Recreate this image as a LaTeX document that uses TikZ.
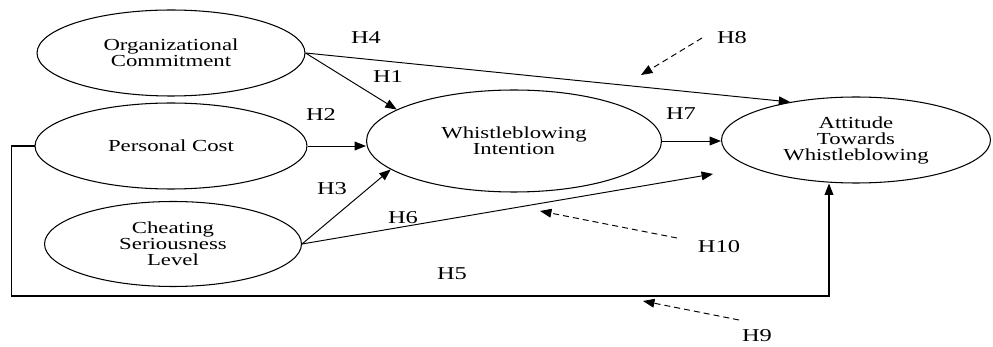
\documentclass[tikz,border=0pt]{standalone}
\usepackage{fontspec}
\setmainfont[FakeStretch=1.35]{Liberation Serif}
\usetikzlibrary{shapes.geometric, arrows.meta}

\begin{document}
\begin{tikzpicture}[x=0.02cm, y=-0.02cm,
        construct/.style={ellipse, draw, line width=.6pt, inner sep=0pt, align=center,
                font=\fontsize{9.6}{9.1}\selectfont},
        hyp/.style={inner sep=1pt, font=\fontsize{10.3}{12}\selectfont},
        link/.style={line width=.55pt, -{Triangle[length=6.5pt, width=5pt]}},
        hint/.style={link, dash pattern=on 3.4pt off 2.3pt}]
        \useasboundingbox (0, 0) rectangle (993, 347);
        % constructs
        \node[construct, minimum width=5.36cm, minimum height=1.72cm] (oc) at (171, 53) {Organizational\\Commitment};
        \node[construct, minimum width=5.44cm, minimum height=1.72cm] (pc) at (171, 146) {Personal Cost};
        \node[construct, minimum width=5.14cm, minimum height=1.70cm] (csl) at (173, 244) {Cheating\\Seriousness\\Level};
        \node[construct, minimum width=5.90cm, minimum height=2.04cm] (wi) at (514, 141) {Whistleblowing\\Intention};
        \node[construct, minimum width=5.38cm, minimum height=1.72cm] (atw) at (856, 140) {Attitude\\Towards\\Whistleblowing};
        % hypotheses
        \node[hyp] (h1) at (388, 77) {H1};
        \node[hyp] (h2) at (321, 115) {H2};
        \node[hyp] (h3) at (332, 189) {H3};
        \node[hyp] (h4) at (366, 38) {H4};
        \node[hyp] (h5) at (452, 274) {H5};
        \node[hyp] (h6) at (403, 218) {H6};
        \node[hyp] (h7) at (681, 114) {H7};
        \node[hyp] (h8) at (732, 38) {H8};
        \node[hyp] (h9) at (757, 336) {H9};
        \node[hyp] (h10) at (719, 247) {H10};
        % direct paths
        \draw[link] (oc.east) -- (atw.150);
        \draw[link] (oc.east) -- (wi.165);
        \draw[link] (pc.east) -- (wi.west |- pc.east);
        \draw[link] (csl.east) -- (wi.193);
        \coordinate (h6end) at (713, 174);
        \draw[link] (csl.east) -- (h6end);
        \draw[link] (wi.east) -- (atw.west |- wi.east);
        \coordinate (h5corner) at (829, 296);
        \draw[link, line width=.65pt] (pc.west) -- ++(-23, 0) |- (h5corner) -- (h5corner |- atw.south);
        % moderating effects
        \coordinate (h8from) at (702, 38);
        \coordinate (h8to) at (641, 75);
        \draw[hint] (h8from) -- (h8to);
        \coordinate (h10from) at (677, 238);
        \coordinate (h10to) at (540, 211);
        \draw[hint] (h10from) -- (h10to);
        \coordinate (h9from) at (739, 320);
        \coordinate (h9to) at (643, 301);
        \draw[hint] (h9from) -- (h9to);
\end{tikzpicture}
\end{document}
